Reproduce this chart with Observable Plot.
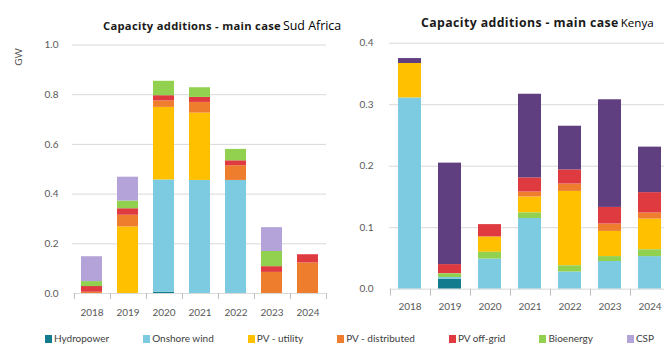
<!DOCTYPE html>
<html>
<head>
<meta charset="utf-8">
<script src="https://cdn.jsdelivr.net/npm/d3@7"></script>
<script src="https://cdn.jsdelivr.net/npm/@observablehq/plot@0.6"></script>
<style>
  html, body { margin: 0; padding: 0; background: #fff; }
  body { width: 664px; height: 347px; overflow: hidden; position: relative; font-family: Lato, "Open Sans", sans-serif; }
  .panel { position: absolute; top: 0; }
  .panel svg { background: transparent !important; overflow: visible; max-width: none !important; height: auto; display: block; }
  .title { position: absolute; white-space: nowrap; line-height: 14px; color: #1a1a1a; z-index: 2; }
  .title b { font-family: "Open Sans", sans-serif; font-weight: 700; }
  .title span { font-family: "Open Sans", sans-serif; font-weight: 400; color: #000; }
  .unit { position: absolute; left: 9px; top: 51px; font-size: 10px; color: #595959; transform: rotate(-90deg); transform-origin: 50% 50%; font-family: Lato, sans-serif; }
  #legend { position: absolute; left: 45px; top: 332px; display: flex; gap: 34px; white-space: nowrap; font-family: Lato, sans-serif; font-size: 10px; color: #404040; line-height: 13px; }
  #legend .item { display: flex; align-items: center; }
  #legend .sw { width: 7px; height: 8px; margin-right: 2px; display: inline-block; }
</style>
</head>
<body>
<div class="title" style="left:103px;top:17px;"><b style="font-size:11.2px;letter-spacing:0.3px">Capacity additions - main case</b><span style="font-size:12.4px;margin-left:2px">Sud Africa</span></div>
<div class="title" style="left:421px;top:14px;"><b style="font-size:12.3px;letter-spacing:0.4px">Capacity additions - main case</b><span style="font-size:11.6px;margin-left:2px">Kenya</span></div>
<div class="unit">GW</div>
<div id="left" class="panel" style="left:0px;width:335px"></div>
<div id="right" class="panel" style="left:330px;width:345px"></div>
<div id="legend"></div>
<script>
// ---------- data ----------
const years = ["2018", "2019", "2020", "2021", "2022", "2023", "2024"];
const seriesNames = ["Hydropower", "Onshore wind", "PV - utility", "PV - distributed", "PV off-grid", "Bioenergy", "CSP", "Geothermal"];
const seriesColors = ["#137b8e", "#7ccbe0", "#ffc000", "#ee7d2e", "#de3a40", "#92d050", "#b4a3d8", "#5f3f7f"];
const legendNames = ["Hydropower", "Onshore wind", "PV - utility", "PV - distributed", "PV off-grid", "Bioenergy", "CSP"];

// South Africa (GW)
const saHydropower     = [0,     0,     0.005, 0,     0,     0,     0];
const saOnshoreWind    = [0,     0,     0.452, 0.455, 0.455, 0,     0];
const saPvUtility      = [0,     0.268, 0.292, 0.271, 0,     0,     0];
const saPvDistributed  = [0.005, 0.047, 0.026, 0.043, 0.059, 0.085, 0.123];
const saPvOffGrid      = [0.023, 0.026, 0.021, 0.020, 0.020, 0.023, 0.033];
const saBioenergy      = [0.020, 0.031, 0.058, 0.039, 0.046, 0.061, 0];
const saCsp            = [0.100, 0.096, 0,     0,     0,     0.096, 0];
const saGeothermal     = [0,     0,     0,     0,     0,     0,     0];

// Kenya (GW)
const keHydropower     = [0,     0.016, 0,     0,     0,     0,     0];
const keOnshoreWind    = [0.311, 0.003, 0.049, 0.115, 0.028, 0.045, 0.053];
const keBioenergy      = [0,     0.006, 0.011, 0.009, 0.010, 0.008, 0.011];
const kePvUtility      = [0.056, 0,     0.025, 0.026, 0.121, 0.041, 0.050];
const kePvDistributed  = [0,     0,     0,     0.008, 0.012, 0.012, 0.010];
const kePvOffGrid      = [0,     0.015, 0.020, 0.023, 0.023, 0.027, 0.033];
const keCsp            = [0,     0,     0,     0,     0,     0,     0];
const keGeothermal     = [0.008, 0.165, 0,     0.136, 0.071, 0.175, 0.074];

const saTicks = [0, 0.2, 0.4, 0.6, 0.8, 1.0];
const keTicks = [0, 0.1, 0.2, 0.3, 0.4];

const saOrder = ["Hydropower", "Onshore wind", "PV - utility", "PV - distributed", "PV off-grid", "Bioenergy", "CSP", "Geothermal"];
const keOrder = ["Hydropower", "Onshore wind", "Bioenergy", "PV - utility", "PV - distributed", "PV off-grid", "CSP", "Geothermal"];

// ---------- build tables ----------
function toRows(seriesArrays) {
  const rows = [];
  seriesNames.forEach((name, si) => {
    years.forEach((yr, yi) => rows.push({ year: yr, series: name, value: seriesArrays[si][yi] }));
  });
  return rows;
}
const saRows = toRows([saHydropower, saOnshoreWind, saPvUtility, saPvDistributed, saPvOffGrid, saBioenergy, saCsp, saGeothermal]);
const keRows = toRows([keHydropower, keOnshoreWind, kePvUtility, kePvDistributed, kePvOffGrid, keBioenergy, keCsp, keGeothermal]);

// tick marks at category boundaries, drawn from the x scale
function boundaryTicks(len, stroke) {
  return function (...args) {
    const scales = args.length >= 4 ? args[1] : args[0];
    const x = scales.x, y = scales.y;
    const step = x(years[1]) - x(years[0]);
    const bw = typeof x.bandwidth === "function" ? x.bandwidth() : step * 0.58;
    const half = (step - bw) / 2;
    const xs = years.map(v => x(v) - half);
    xs.push(x(years[years.length - 1]) + bw + half);
    const y0 = y(0);
    const g = d3.create("svg:g").attr("stroke", stroke).attr("stroke-width", 1);
    g.append("line").attr("x1", xs[0]).attr("x2", xs[xs.length - 1]).attr("y1", y0 + 0.5).attr("y2", y0 + 0.5).attr("stroke", "#d9d9d9");
    xs.forEach(px => g.append("line").attr("x1", Math.round(px) + 0.5).attr("x2", Math.round(px) + 0.5).attr("y1", y0).attr("y2", y0 + len));
    return g.node();
  };
}

function chart(rows, order, ticks, opts) {
  return Plot.plot({
    width: opts.width,
    height: opts.height,
    marginLeft: opts.ml,
    marginRight: opts.mr,
    marginTop: opts.mt,
    marginBottom: opts.mb,
    style: { fontFamily: "Lato, sans-serif", fontSize: "10px", color: "#595959", background: "transparent", overflow: "visible", maxWidth: "none" },
    x: { domain: years, paddingInner: 0.42, paddingOuter: 0.21, label: null },
    y: { domain: [0, ticks[ticks.length - 1]], label: null },
    color: { domain: seriesNames, range: seriesColors },
    marks: [
      Plot.gridY(ticks.filter(t => t > 0), { stroke: "#d9d9d9", strokeOpacity: 1 }),
      Plot.barY(rows, { x: "year", y: "value", fill: "series", order: order }),
      boundaryTicks(opts.tickLen, "#bfbfbf"),
      Plot.axisY(ticks, { tickSize: 0, tickPadding: opts.yPad, tickFormat: d3.format(".1f"), label: null }),
      Plot.axisX({ tickSize: 0, tickPadding: opts.xPad, label: null })
    ]
  });
}

document.getElementById("left").append(chart(saRows, saOrder, saTicks, {
  width: 335, height: 325, ml: 72, mr: 9, mt: 44.5, mb: 32, yPad: 14, xPad: 15, tickLen: 6
}));
document.getElementById("right").append(chart(keRows, keOrder, keTicks, {
  width: 345, height: 325, ml: 59, mr: 4, mt: 42.7, mb: 36.3, yPad: 16, xPad: 14, tickLen: 7
}));

// ---------- legend ----------
const legend = document.getElementById("legend");
legendNames.forEach((name) => {
  const item = document.createElement("div");
  item.className = "item";
  const sw = document.createElement("span");
  sw.className = "sw";
  sw.style.background = seriesColors[seriesNames.indexOf(name)];
  const label = document.createElement("span");
  label.textContent = name;
  item.append(sw, label);
  legend.append(item);
});
</script>
</body>
</html>
